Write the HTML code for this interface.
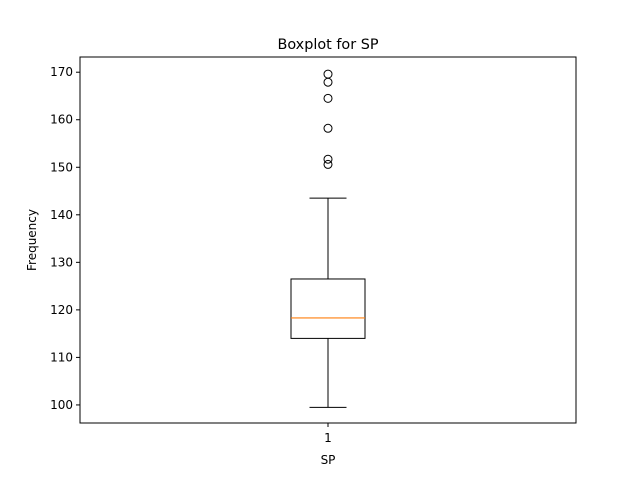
<!DOCTYPE html>
<html><head><meta charset="utf-8"><style>
body{margin:0;background:#fff;}
svg text{font-family:"DejaVu Sans","Liberation Sans",sans-serif;fill:#000;}
</style></head><body>
<svg id="chart" width="640" height="476" xmlns="http://www.w3.org/2000/svg">
<text x="328" y="49" font-size="14.4" text-anchor="middle">Boxplot for SP</text>
<g id="marks"></g>
<rect x="80" y="57" width="496" height="366" fill="none" stroke="#000" stroke-width="1"/>
<g id="yticks"></g>
<text x="328" y="464" font-size="12" text-anchor="middle">SP</text>
<text transform="translate(36,240) rotate(-90)" font-size="12" text-anchor="middle">Frequency</text>
</svg>
<script>
const categories = ["1"];
const q1Values = [114.0];
const medianValues = [118.3];
const q3Values = [126.5];
const whiskerLowValues = [99.5];
const whiskerHighValues = [143.5];
const outliers = [169.6, 167.9, 164.5, 158.2, 151.7, 150.6];
const yTicks = [100,110,120,130,140,150,160,170];
const yMin = 96.2, yMax = 173.2;
const plotTop=57, plotBottom=423, plotLeft=80, plotRight=576;
const NS="http://www.w3.org/2000/svg";
function yPos(v){return plotBottom-(v-yMin)/(yMax-yMin)*(plotBottom-plotTop);}
function xPos(i){return plotLeft+(plotRight-plotLeft)*(i+1)/(categories.length+1);}
function mk(tag,attrs,parent){const e=document.createElementNS(NS,tag);for(const k in attrs)e.setAttribute(k,attrs[k]);parent.appendChild(e);return e;}
const marks=document.getElementById('marks'), yt=document.getElementById('yticks');
yTicks.forEach(v=>{
  const l=mk('line',{x1:plotLeft-4,x2:plotLeft,y1:yPos(v),y2:yPos(v),stroke:'#000'},yt);
  
  
  const t=mk('text',{x:plotLeft-7,y:yPos(v)+4,'font-size':12,'text-anchor':'end'},yt);
  t.textContent=v;
  
  
});
categories.forEach((c,i)=>{
  const cx=xPos(i), hw=37, cw=18.5;
  const g=mk('g',{},marks);
  
  
  mk('line',{x1:cx,x2:cx,y1:yPos(q1Values[i]),y2:yPos(whiskerLowValues[i]),stroke:'#000'},g);
  mk('line',{x1:cx,x2:cx,y1:yPos(q3Values[i]),y2:yPos(whiskerHighValues[i]),stroke:'#000'},g);
  mk('line',{x1:cx-cw,x2:cx+cw,y1:yPos(whiskerLowValues[i]),y2:yPos(whiskerLowValues[i]),stroke:'#000'},g);
  mk('line',{x1:cx-cw,x2:cx+cw,y1:yPos(whiskerHighValues[i]),y2:yPos(whiskerHighValues[i]),stroke:'#000'},g);
  mk('rect',{x:cx-hw,y:yPos(q3Values[i]),width:2*hw,height:yPos(q1Values[i])-yPos(q3Values[i]),fill:'none',stroke:'#000'},g);
  mk('line',{x1:cx-hw,x2:cx+hw,y1:yPos(medianValues[i]),y2:yPos(medianValues[i]),stroke:'#ff7f0e','stroke-width':1.2},g);
  outliers.forEach(v=>{
    const o=mk('circle',{cx:cx,cy:yPos(v),r:4,fill:'none',stroke:'#000'},g);
    
    
  });
  mk('line',{x1:cx,x2:cx,y1:plotBottom,y2:plotBottom+4,stroke:'#000'},marks);
  const t=mk('text',{x:cx,y:plotBottom+19,'font-size':12,'text-anchor':'middle'},marks);
  t.textContent=c;
  
  
});
</script>
</body></html>
